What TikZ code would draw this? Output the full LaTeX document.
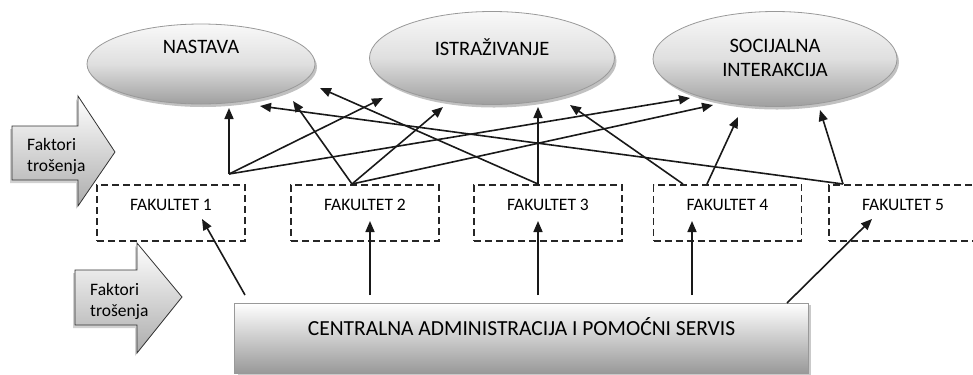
\documentclass[tikz,border=0pt]{standalone}
\usepackage{fontspec}
\setmainfont{Carlito}
\usetikzlibrary{arrows.meta,shadows,shapes.geometric}

\begin{document}
\begin{tikzpicture}[x=1bp,y=-1bp,
  goal/.style={ellipse, draw=gray!80, line width=0.8bp, inner sep=0pt,
    top color=gray!5, bottom color=gray!75, middle color=gray!25,
    drop shadow={shadow xshift=2bp, shadow yshift=-3bp, fill=gray!70, opacity=0.7}},
  goaltext/.style={font=\fontsize{20.5bp}{24bp}\selectfont, text=black, align=center},
  faculty/.style={draw=black!85, line width=1.5bp, dash pattern=on 7bp off 4bp,
    minimum width=148bp, minimum height=56bp, inner sep=0pt},
  factext/.style={font=\fontsize{17.5bp}{20bp}\selectfont, text=black},
  central/.style={draw=gray!80, line width=1bp, inner sep=0pt,
    minimum width=573bp, minimum height=70bp,
    top color=white, middle color=white!88!gray, bottom color=gray!80,
    drop shadow={shadow xshift=3bp, shadow yshift=-2bp, fill=gray!60, opacity=0.7}},
  costarrow/.style={draw=black!80, line width=0.8bp, top color=white, bottom color=gray!65,
    drop shadow={shadow xshift=-2bp, shadow yshift=-3bp, fill=gray!60, opacity=0.6}},
  costtext/.style={font=\fontsize{17.5bp}{21bp}\selectfont, text=black, align=left, anchor=west, inner sep=0pt},
  flow/.style={line width=1.6bp, draw=black!90, -{Triangle[length=11bp,width=9bp]}}
]
\useasboundingbox (0,0) rectangle (973,374);

% cost-factor block arrows
\path[costarrow] (12,126) -- (78,126) -- (78,96) -- (115,152) -- (78,206) -- (78,180) -- (12,180) -- cycle;
\node[costtext] (cost1) at (27,156) {Faktori\\trošenja};
\path[costarrow] (75,270) -- (137,270) -- (137,243) -- (182,297) -- (137,353) -- (137,325) -- (75,325) -- cycle;
\node[costtext] (cost2) at (90,301) {Faktori\\trošenja};

% goals
\node[goal, minimum width=228bp, minimum height=80bp,
  label={[goaltext, yshift=17bp]center:NASTAVA}] (nast) at (201,64) {};
\node[goal, minimum width=245bp, minimum height=93bp,
  label={[goaltext, yshift=11bp]center:ISTRAŽIVANJE}] (istr) at (492,58) {};
\node[goal, minimum width=244bp, minimum height=95bp,
  label={[goaltext, yshift=1bp]center:SOCIJALNA\\INTERAKCIJA}] (soc) at (775,59) {};

% faculties
\foreach \n/\x in {1/171, 2/365, 3/548, 4/727.5, 5/903}{
  \node[faculty, label={[factext, yshift=8bp]center:FAKULTET \n}] (f\n) at (\x,213) {};
}

% central administration
\node[central, label={[font=\fontsize{21.5bp}{24bp}\selectfont, text=black, yshift=11bp]center:CENTRALNA ADMINISTRACIJA I POMOĆNI SERVIS}] (adm) at (521.5,338) {};

% start points of the service arrows
\coordinate (a1) at (245,295);
\coordinate (a2) at (370,295);
\coordinate (a3) at (538,295);
\coordinate (a4) at (692,295);
\coordinate (a5) at (787,303);
% their ends inside the faculty boxes
\coordinate (b1) at (202,219);
\coordinate (b2) at (370,221);
\coordinate (b3) at (538,221);
\coordinate (b4) at (692,221);
\coordinate (b5) at (872,219);
\foreach \i in {1,...,5}{ \draw[flow] (a\i) -- (b\i); }

% faculty output points
\coordinate (s1) at (229,174);
\coordinate (s2) at (352,184);
\coordinate (s3) at (538,184);
\coordinate (s4) at (683,184);
\coordinate (s4r) at (707,184);
\coordinate (s5) at (843,184);

% arrival points on the goals
\coordinate (n1) at (229,108);
\coordinate (n2) at (293,101);
\coordinate (n3) at (320,88);
\coordinate (n5) at (260,106);
\coordinate (i1) at (383,98);
\coordinate (i2) at (443,107);
\coordinate (i3) at (538,107);
\coordinate (i4) at (570,105);
\coordinate (c1) at (690,98);
\coordinate (c2) at (713,105);
\coordinate (c4) at (738,117);
\coordinate (c5) at (820,110);

\draw[flow] (s1) -- (n1);
\draw[flow] (s1) -- (i1);
\draw[flow] (s1) -- (c1);
\draw[flow] (s2) -- (n2);
\draw[flow] (s2) -- (i2);
\draw[flow] (s2) -- (c2);
\draw[flow] (s3) -- (i3);
\draw[flow] (s3) -- (n3);
\draw[flow] (s4) -- (i4);
\draw[flow] (s4r) -- (c4);
\draw[flow] (s5) -- (n5);
\draw[flow] (s5) -- (c5);
\end{tikzpicture}
\end{document}
